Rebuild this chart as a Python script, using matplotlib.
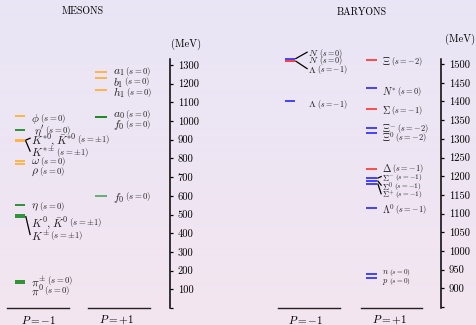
import numpy as np
import matplotlib
matplotlib.use("Agg")
import matplotlib.pyplot as plt

plt.rcParams['font.family'] = 'serif'
plt.rcParams['font.serif'] = ['cmr10']
plt.rcParams['mathtext.fontset'] = 'cm'
plt.rcParams['axes.unicode_minus'] = False

# Mesons, parity -1 (masses in MeV, label heights in MeV)
mes_neg_symbols = [r"$\pi^{\pm}$", r"$\pi^{0}$", r"$K^0,\bar{K}^0\ $", r"$K^{\pm}$",
                   r"$\eta\ $", r"$\rho\ \ $", r"$\omega\ $", r"$K^{*0},\bar{K}^{*0}$",
                   r"$K^{*\pm}\ $", r"$\ \eta'$", r"$\phi\ $"]
mes_neg_strange = ["0", "0", r"\pm1", r"\pm1", "0", "0", "0", r"\pm1", r"\pm1", "0", "0"]
mes_neg_mass = [146, 133, 500, 489, 553, 772, 785, 898, 892, 950, 1025]
mes_neg_label_y = [152, 99, 462, 393, 548, 735, 789, 908, 839, 958, 1021]
mes_neg_kind = ['g', 'g', 'g', 'g', 'g', 'o', 'o', 'o', 'o', 'g', 'o']
mes_neg_link = [3, 7, 8]

# Mesons, parity +1
mes_pos_symbols = [r"$f_0\,$", r"$f_0\ $", r"$a_0\ $", r"$h_1$", r"$b_1$", r"$a_1$"]
mes_pos_strange = ["0", "0", "0", "0", "0", "0"]
mes_pos_mass = [601, 1020, 1020, 1166, 1229, 1260]
mes_pos_label_y = [601, 988, 1042, 1161, 1215, 1270]
mes_pos_kind = ['lg', 'g', 'g', 'o', 'o', 'o']

# Baryons, parity -1
bar_neg_symbols = [r"$N$", r"$N$", r"$\Lambda\ $", r"$\Lambda$"]
bar_neg_strange = ["0", "0", "-1", "-1"]
bar_neg_mass = [1515, 1508, 1508, 1400]
bar_neg_label_y = [1532, 1514, 1488, 1395]
bar_neg_kind = ['b', 'r', 'r', 'b']
bar_neg_link = [0, 2]

# Baryons, parity +1
bar_pos_symbols = [r"$n$", r"$p$", r"$\Lambda^{0}$", r"$\Sigma^{+}$", r"$\Sigma^{0}$",
                   r"$\Sigma^{-}$", r"$\Delta\ $", r"$\Xi^{0}$", r"$\Xi^{-}$",
                   r"$\Sigma\ \ $", r"$N^{*}$", r"$\Xi$"]
bar_pos_strange = ["0", "0", "-1", "-1", "-1", "-1", "-1", "-2", "-2", "-1", "0", "-2"]
bar_pos_mass = [937, 928, 1116, 1179, 1187, 1195, 1219, 1315, 1330, 1381, 1435, 1512]
bar_pos_label_y = [946, 922, 1114, 1153, 1176, 1199, 1224, 1306, 1331, 1379, 1430, 1511]
bar_pos_kind = ['b', 'b', 'b', 'b', 'b', 'b', 'r', 'b', 'b', 'r', 'b', 'r']
bar_pos_link = [3, 4, 5]
bar_pos_small = [0, 1, 3, 4, 5]

mes_ticks = [0, 100, 200, 300, 400, 500, 600, 700, 800, 900, 1000, 1100, 1200, 1300]
bar_ticks = [850, 900, 950, 1000, 1050, 1100, 1150, 1200, 1250, 1300, 1350, 1400, 1450, 1500]

colors = {'g': '#1c8c24', 'lg': '#5aaa6a', 'o': '#ffb13d', 'b': '#3535ff', 'r': '#ff3e3e'}

W, H = 476, 325
fig = plt.figure(figsize=(W / 100, H / 100), dpi=100)

# background gradient
bg = fig.add_axes([0, 0, 1, 1], zorder=-10)
top = np.array([233, 229, 246]) / 255
bot = np.array([243, 229, 240]) / 255
t = np.linspace(0, 1, 100)[:, None]
grad = top[None, :] * (1 - t) + bot[None, :] * t
bg.imshow(grad[:, None, :], aspect='auto', extent=[0, 1, 0, 1])
bg.axis('off')


def px_axes(x0, x1, y0, y1):
    return fig.add_axes([x0 / W, 1 - y1 / H, (x1 - x0) / W, (y1 - y0) / H])


def draw_column(ax, masses, kinds, symbols, strange, label_y, x0, x1, xl,
                links=(), small=(), fs=(8.3, 6.3), fs_small=(6, 5.2)):
    for i, m in enumerate(masses):
        ax.plot([x0, x1], [m, m], color=colors[kinds[i]], lw=1.3, clip_on=False,
                solid_capstyle='butt')
        f_main, f_sub = fs_small if i in small else fs
        main = ax.text(xl, label_y[i], symbols[i], fontsize=f_main,
                       va='center_baseline', ha='left', color='#222222')
        ax.annotate(r"$(s=%s)$" % strange[i], xy=(1, label_y[i]),
                    xycoords=(main, 'data'), xytext=(0.3, 0.6),
                    textcoords='offset points', fontsize=f_sub,
                    va='center_baseline', ha='left', color='#222222')
        if i in links:
            ax.plot([x1 + 0.005, xl - 0.005], [m, label_y[i]], color='black', lw=0.9,
                    clip_on=False)


def style_axis(ax, ylim, ticks):
    ax.set_xlim(0, 1)
    ax.set_ylim(*ylim)
    ax.patch.set_alpha(0)
    for s in ['left', 'top', 'bottom']:
        ax.spines[s].set_visible(False)
    ax.spines['right'].set_linewidth(1.1)
    ax.yaxis.tick_right()
    ax.set_xticks([])
    ax.set_yticks(ticks)
    ax.set_yticklabels([''] + [str(v) for v in ticks[1:]])
    ax.tick_params(axis='y', direction='out', length=2.5, width=0.9, pad=3,
                   labelsize=7.6)


# Mesons
ax1 = px_axes(0, 170, 59.3, 308)
style_axis(ax1, (0, 1330), mes_ticks)
draw_column(ax1, mes_neg_mass, mes_neg_kind, mes_neg_symbols, mes_neg_strange,
            mes_neg_label_y, 0.088, 0.147, 0.182, links=mes_neg_link)
draw_column(ax1, mes_pos_mass, mes_pos_kind, mes_pos_symbols, mes_pos_strange,
            mes_pos_label_y, 0.559, 0.629, 0.665)
ax1.plot([0.041, 0.406], [0, 0], color='#222222', lw=1.0, clip_on=False)
ax1.plot([0.518, 0.882], [0, 0], color='#222222', lw=1.0, clip_on=False)
ax1.text(0.226, -62, r"$P=-1$", fontsize=8, ha='center', va='center')
ax1.text(0.687, -62, r"$P=+1$", fontsize=8, ha='center', va='center')

# Baryons
ax2 = px_axes(270, 441, 59.3, 308)
style_axis(ax2, (847, 1513), bar_ticks)
draw_column(ax2, bar_neg_mass, bar_neg_kind, bar_neg_symbols, bar_neg_strange,
            bar_neg_label_y, 0.088, 0.146, 0.222, links=bar_neg_link,
            fs=(7, 5.8))
draw_column(ax2, bar_pos_mass, bar_pos_kind, bar_pos_symbols, bar_pos_strange,
            bar_pos_label_y, 0.561, 0.626, 0.655, links=bar_pos_link,
            small=bar_pos_small, fs=(7.3, 6))
ax2.plot([0.045, 0.409], [847, 847], color='#222222', lw=1.0, clip_on=False)
ax2.plot([0.532, 0.889], [847, 847], color='#222222', lw=1.0, clip_on=False)
ax2.text(0.208, 847 - 31, r"$P=-1$", fontsize=8, ha='center', va='center')
ax2.text(0.70, 847 - 31, r"$P=+1$", fontsize=8, ha='center', va='center')

# Titles and units
fig.text(83 / W, 1 - 11 / H, "MESONS", fontsize=7.2, ha='center', va='center')
fig.text(362 / W, 1 - 12 / H, "BARYONS", fontsize=7.2, ha='center', va='center')
fig.text(186 / W, 1 - 44 / H, "(MeV)", fontsize=7.5, ha='center', va='center')
fig.text(460 / W, 1 - 39 / H, "(MeV)", fontsize=7.5, ha='center', va='center')

fig.savefig("out.png", dpi=100)
